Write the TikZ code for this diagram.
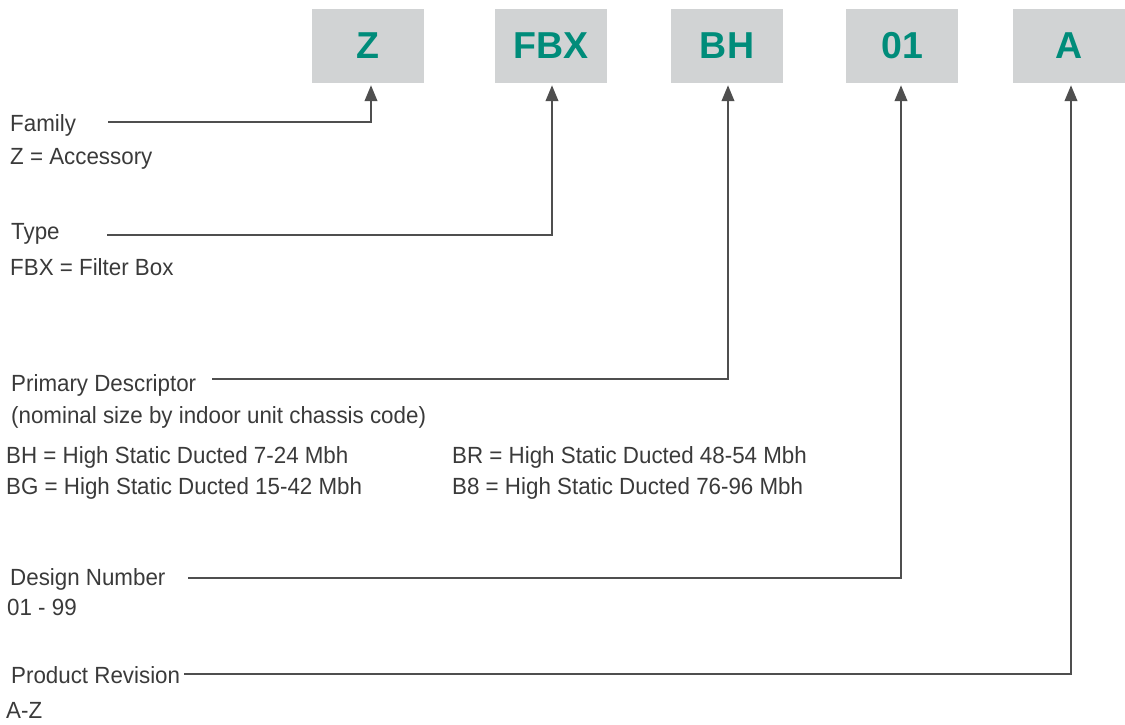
\documentclass[tikz,border=0pt]{standalone}
\usepackage{fontspec}
\setmainfont{Liberation Sans}
\newfontfamily\narrowlbl[FakeStretch=0.955]{Liberation Sans}
\usetikzlibrary{arrows.meta}
\definecolor{boxgray}{HTML}{D1D3D4}
\definecolor{codeteal}{HTML}{008C7A}
\definecolor{txtgray}{HTML}{3A3A3A}
\definecolor{linegray}{HTML}{4F4F4F}
\tikzset{
  codebox/.style={fill=boxgray, draw=none, minimum width=112pt, minimum height=74pt, inner sep=0pt,
    text=codeteal, font=\fontsize{37.5}{40}\selectfont\bfseries},
  lbl/.style={anchor=base west, inner sep=0pt, text=txtgray, font=\narrowlbl\fontsize{23.4}{26}\selectfont},
  conn/.style={draw=linegray, line width=2.4pt, -{Triangle[length=16pt,width=12.5pt]}, shorten >=2pt}
}
\begin{document}
\begin{tikzpicture}[x=1pt,y=-1pt]
\useasboundingbox (0,0) rectangle (1125,724);
% code boxes
\node[codebox] (Z)   at (368,46) {Z};
\node[codebox] (FBX) at (551,46) {FBX};
\node[codebox] (BH)  at (727,46) {BH};
\node[codebox] (N01) at (902,46) {01};
\node[codebox] (A)   at (1069,46) {A};
% labels
\node[lbl] (fam)  at (10,131) {Family};
\node[lbl] (famv) at (10,164) {Z = Accessory};
\node[lbl] (typ)  at (11,239) {Type};
\node[lbl] (typv) at (10,275) {FBX = Filter Box};
\node[lbl] (pri)  at (11,391) {Primary Descriptor};
\node[lbl] (priv) at (11,423) {(nominal size by indoor unit chassis code)};
\node[lbl] (bh)   at (6,463) {BH = High Static Ducted 7-24 Mbh};
\node[lbl] (bg)   at (6,494) {BG = High Static Ducted 15-42 Mbh};
\node[lbl] (br)   at (452,463) {BR = High Static Ducted 48-54 Mbh};
\node[lbl] (b8)   at (452,494) {B8 = High Static Ducted 76-96 Mbh};
\node[lbl] (des)  at (10,585) {Design Number};
\node[lbl] (desv) at (7,615) {01 - 99};
\node[lbl] (prd)  at (11,683) {Product Revision};
\node[lbl] (prdv) at (6,718) {A-Z};
% connector start points
\coordinate (sfam) at (108,122);
\coordinate (styp) at (107,235);
\coordinate (spri) at (212,379);
\coordinate (sdes) at (188,578);
\coordinate (sprd) at (184,674);
% connectors
\draw[conn] (sfam) -| ([xshift=3pt]Z.south);
\draw[conn] (styp) -| ([xshift=1pt]FBX.south);
\draw[conn] (spri) -| ([xshift=1pt]BH.south);
\draw[conn] (sdes) -| ([xshift=-1pt]N01.south);
\draw[conn] (sprd) -| ([xshift=2pt]A.south);
\end{tikzpicture}
\end{document}
